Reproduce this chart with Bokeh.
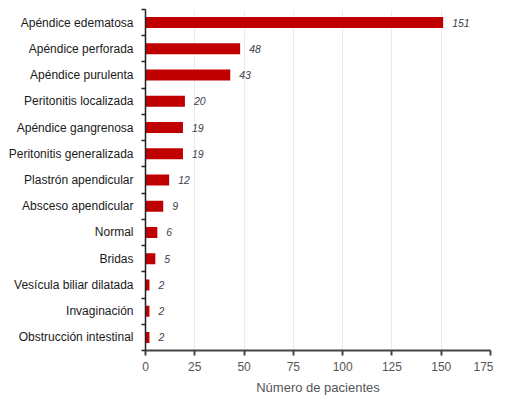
from bokeh.plotting import figure
from bokeh.models import Range1d, FixedTicker, ColumnDataSource
from bokeh.core.properties import value
from bokeh.embed import file_html
from bokeh.resources import INLINE

# Datos (de arriba hacia abajo)
categorias = ["Apéndice edematosa", "Apéndice perforada", "Apéndice purulenta",
              "Peritonitis localizada", "Apéndice gangrenosa", "Peritonitis generalizada",
              "Plastrón apendicular", "Absceso apendicular", "Normal", "Bridas",
              "Vesícula biliar dilatada", "Invaginación", "Obstrucción intestinal"]
pacientes = [151, 48, 43, 20, 19, 19, 12, 9, 6, 5, 2, 2, 2]
x_ticks = [0, 25, 50, 75, 100, 125, 150, 175]

n = len(categorias)
ys = [n - 1 - i for i in range(n)]
fronteras = [i - 0.5 for i in range(n + 1)]

source = ColumnDataSource(dict(cat=categorias, y=ys, val=pacientes,
                               lab=[str(v) for v in pacientes]))

p = figure(frame_width=345, frame_height=341, output_backend="svg", toolbar_location=None,
           x_range=Range1d(0, 175), y_range=Range1d(-0.5, n - 0.5),
           min_border_left=145, min_border_right=3, min_border_top=9,
           min_border_bottom=40)
p.outline_line_color = None
p.background_fill_color = "white"

p.hbar(y="y", left=0, right="val", height=0.42, source=source,
       fill_color="#c00000", line_color=None)

p.text(x="val", y="y", text="lab", source=source, x_offset=9,
       text_baseline="middle", text_align="left", text_font_size="10.5px",
       text_font_style="italic", text_color="#3c3f4c",
       text_font=value("Liberation Sans"))

# Eje X
p.xaxis.ticker = FixedTicker(ticks=x_ticks)
p.xaxis.axis_label = "Número de pacientes"
p.xaxis.axis_label_text_font = "Liberation Sans"
p.xaxis.axis_label_text_font_style = "normal"
p.xaxis.axis_label_text_font_size = "13px"
p.xaxis.axis_label_text_color = "#555555"
p.xaxis.axis_label_standoff = 6
p.xaxis.major_label_text_font = "Liberation Sans"
p.xaxis.major_label_text_font_size = "12px"
p.xaxis.major_label_text_color = "#555555"
p.xaxis.major_label_standoff = 6
p.xaxis.axis_line_color = "#444444"
p.xaxis.axis_line_width = 2
p.xaxis.major_tick_line_color = "#444444"
p.xaxis.major_tick_line_width = 2
p.xaxis.major_tick_out = 5
p.xaxis.major_tick_in = 0
p.xaxis.minor_tick_line_color = None

# Eje Y: etiquetas en el centro, marcas entre categorías
p.yaxis.ticker = FixedTicker(ticks=ys, minor_ticks=fronteras)
p.yaxis.major_label_overrides = {y: c for y, c in zip(ys, categorias)}
p.yaxis.major_label_text_font = "Liberation Sans"
p.yaxis.major_label_text_font_size = "12px"
p.yaxis.major_label_text_color = "#1a1a1a"
p.yaxis.major_label_standoff = 8
p.yaxis.major_tick_line_color = None
p.yaxis.major_tick_out = 0
p.yaxis.major_tick_in = 0
p.yaxis.minor_tick_line_color = "#222222"
p.yaxis.minor_tick_line_width = 1.5
p.yaxis.minor_tick_out = 4
p.yaxis.minor_tick_in = 0
p.yaxis.axis_line_color = "#222222"
p.yaxis.axis_line_width = 1.5

p.xgrid.grid_line_color = "#ebebeb"
p.ygrid.grid_line_color = None

open("out.html", "w").write(file_html(p, INLINE))
